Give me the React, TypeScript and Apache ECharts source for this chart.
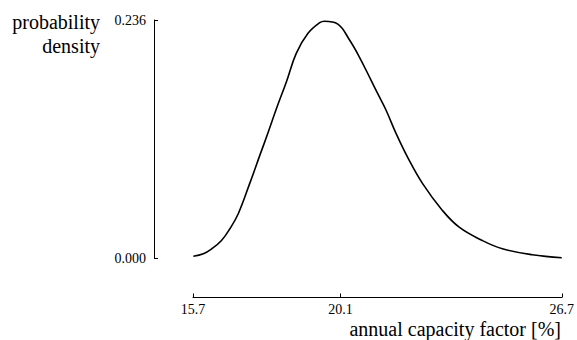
import React, { useEffect, useRef } from "react";
import * as echarts from "echarts";

const capacityFactor = [
  15.71, 16.01, 16.26, 16.55, 16.8, 17.05, 17.39, 17.69, 17.94, 18.19, 18.49, 18.78, 19.13, 19.48,
  19.62, 20.02, 20.37, 20.66, 21.01, 21.26, 21.46, 21.76, 22.1, 22.55, 23.14, 23.64, 24.33, 24.93,
  25.82, 26.7,
];
const density = [
  0.0023, 0.0047, 0.0096, 0.0178, 0.0294, 0.0443, 0.0741, 0.1018, 0.1246, 0.1484, 0.1752, 0.203,
  0.2228, 0.2333, 0.2347, 0.232, 0.2162, 0.1996, 0.1765, 0.1599, 0.1467, 0.1236, 0.1004, 0.0741,
  0.0476, 0.031, 0.0178, 0.0096, 0.0037, 0.0007,
];
const xTicks = [15.7, 20.1, 26.7];
const yMin = 0;
const yMax = 0.236;
const xName = "annual capacity factor [%]";
const yName = "probability\ndensity";

const FONT = "Liberation Serif";

export default function App() {
  const ref = useRef<HTMLDivElement>(null);
  useEffect(() => {
    if (!ref.current) return;
    const chart = echarts.init(ref.current, null, { renderer: "svg" });
    const data = capacityFactor.map((x, i) => [x, density[i]]);
    const nameStyle = {
      fontFamily: FONT,
      fontSize: 20,
      fontWeight: 400,
      color: "#000",
      lineHeight: 24,
    };
    chart.setOption({
      animation: false,
      backgroundColor: "#ffffff",
      title: [
        { text: xName, left: 561, top: 317, textAlign: "right", padding: 0, textStyle: nameStyle },
        { text: yName, left: 100, top: 10, textAlign: "right", padding: 0, textStyle: nameStyle },
      ],
      grid: { left: 193, right: 14, top: 20, bottom: 81.5, containLabel: false },
      xAxis: {
        type: "value",
        min: 15.7,
        max: 26.7,
        offset: 39,
        splitLine: { show: false },
        axisLine: { show: true, onZero: false, lineStyle: { color: "#000", width: 1 } },
        axisTick: {
          show: true,
          inside: true,
          length: 4,
          customValues: xTicks,
          lineStyle: { color: "#000", width: 1 },
        },
        axisLabel: {
          show: true,
          customValues: xTicks,
          margin: 5,
          fontFamily: FONT,
          fontSize: 14,
          color: "#000",
          formatter: (v: number) => v.toFixed(1),
        },
      },
      yAxis: {
        type: "value",
        min: yMin,
        max: yMax,
        interval: yMax,
        offset: 39,
        splitLine: { show: false },
        axisLine: { show: true, onZero: false, lineStyle: { color: "#000", width: 1 } },
        axisTick: { show: true, inside: true, length: 4, lineStyle: { color: "#000", width: 1 } },
        axisLabel: {
          show: true,
          margin: 8,
          fontFamily: FONT,
          fontSize: 14,
          color: "#000",
          formatter: (v: number) => v.toFixed(3),
        },
      },
      series: [
        {
          type: "line",
          data,
          smooth: 0.4,
          showSymbol: false,
          lineStyle: { color: "#000", width: 1.6 },
        },
      ],
    });
    return () => chart.dispose();
  }, []);
  return (
    <div
      ref={ref}
      style={{ position: "absolute", left: 0, top: 0, width: 577, height: 340 }}
    />
  );
}
